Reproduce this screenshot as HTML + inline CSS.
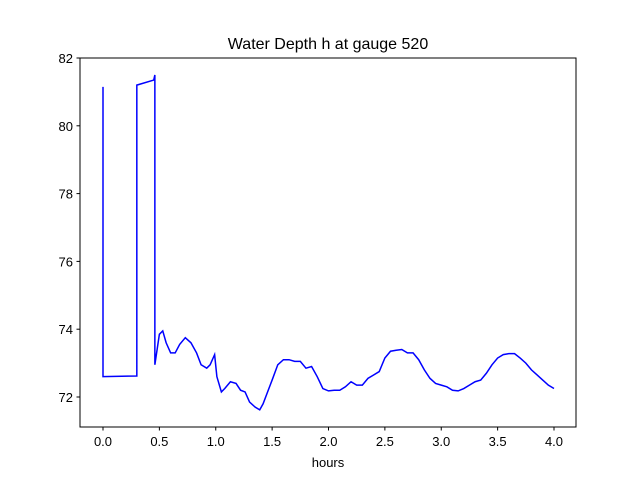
<!DOCTYPE html>
<html><head><meta charset="utf-8"><style>
body{margin:0;background:#fff}
svg{display:block;font-family:"Liberation Sans","DejaVu Sans",sans-serif}
</style></head><body>
<svg id="chart" width="640" height="480">
<rect width="640" height="480" fill="#fff"/>
<text x="328" y="49" text-anchor="middle" font-size="16">Water Depth h at gauge 520</text>
<g id="marks"></g>
<g id="axes"></g>
<rect x="80" y="58" width="496" height="369" fill="none" stroke="#000" stroke-width="1"/>
<text x="328" y="467" text-anchor="middle" font-size="13">hours</text>
</svg>
<script>
const times=[0,0.0,0.3,0.3,0.45,0.46,0.46,0.48,0.5,0.53,0.56,0.6,0.64,0.68,0.73,0.78,0.83,0.87,0.92,0.95,0.99,1.01,1.05,1.08,1.13,1.18,1.22,1.26,1.3,1.35,1.39,1.42,1.46,1.5,1.55,1.6,1.65,1.7,1.75,1.8,1.85,1.9,1.95,2.0,2.05,2.1,2.15,2.2,2.25,2.3,2.35,2.4,2.45,2.5,2.55,2.6,2.65,2.7,2.75,2.8,2.85,2.9,2.95,3.0,3.05,3.1,3.15,3.2,3.25,3.3,3.35,3.4,3.45,3.5,3.55,3.6,3.65,3.7,3.75,3.8,3.85,3.9,3.95,4.0];
const depths=[81.15,72.6,72.62,81.2,81.35,81.5,72.95,73.4,73.85,73.95,73.6,73.3,73.3,73.55,73.75,73.6,73.3,72.95,72.85,72.95,73.25,72.6,72.15,72.25,72.45,72.4,72.2,72.15,71.85,71.7,71.62,71.8,72.15,72.5,72.95,73.1,73.1,73.05,73.05,72.85,72.9,72.6,72.25,72.18,72.2,72.2,72.3,72.45,72.35,72.35,72.55,72.65,72.75,73.15,73.35,73.38,73.4,73.3,73.3,73.1,72.8,72.55,72.4,72.35,72.3,72.2,72.18,72.25,72.35,72.45,72.5,72.7,72.95,73.15,73.25,73.28,73.28,73.15,73.0,72.8,72.65,72.5,72.35,72.25];
const xTicks=[0.0,0.5,1.0,1.5,2.0,2.5,3.0,3.5,4.0];
const yTicks=[72,74,76,78,80,82];
const NS="http://www.w3.org/2000/svg";
function X(t){return 103+t*112.75;}
function Y(v){return 58+(82-v)*33.9;}
const marks=document.getElementById('marks'),axes=document.getElementById('axes');
const p=document.createElementNS(NS,'polyline');


p.setAttribute('points',times.map((t,i)=>X(t)+','+Y(depths[i])).join(' '));
p.setAttribute('fill','none');p.setAttribute('stroke','#0000ff');p.setAttribute('stroke-width','1.5');
marks.appendChild(p);
xTicks.forEach(t=>{
const l=document.createElementNS(NS,'line');


l.setAttribute('x1',X(t));l.setAttribute('x2',X(t));l.setAttribute('y1',427);l.setAttribute('y2',430.5);l.setAttribute('stroke','#000');
axes.appendChild(l);
const s=document.createElementNS(NS,'text');


s.setAttribute('x',X(t));s.setAttribute('y',446);s.setAttribute('text-anchor','middle');s.setAttribute('font-size','13');
s.textContent=t.toFixed(1);axes.appendChild(s);
});
yTicks.forEach(v=>{
const l=document.createElementNS(NS,'line');


l.setAttribute('x1',76.5);l.setAttribute('x2',80);l.setAttribute('y1',Y(v));l.setAttribute('y2',Y(v));l.setAttribute('stroke','#000');
axes.appendChild(l);
const s=document.createElementNS(NS,'text');


s.setAttribute('x',73);s.setAttribute('y',Y(v)+5);s.setAttribute('text-anchor','end');s.setAttribute('font-size','13');
s.textContent=v;axes.appendChild(s);
});
</script>
</body></html>
